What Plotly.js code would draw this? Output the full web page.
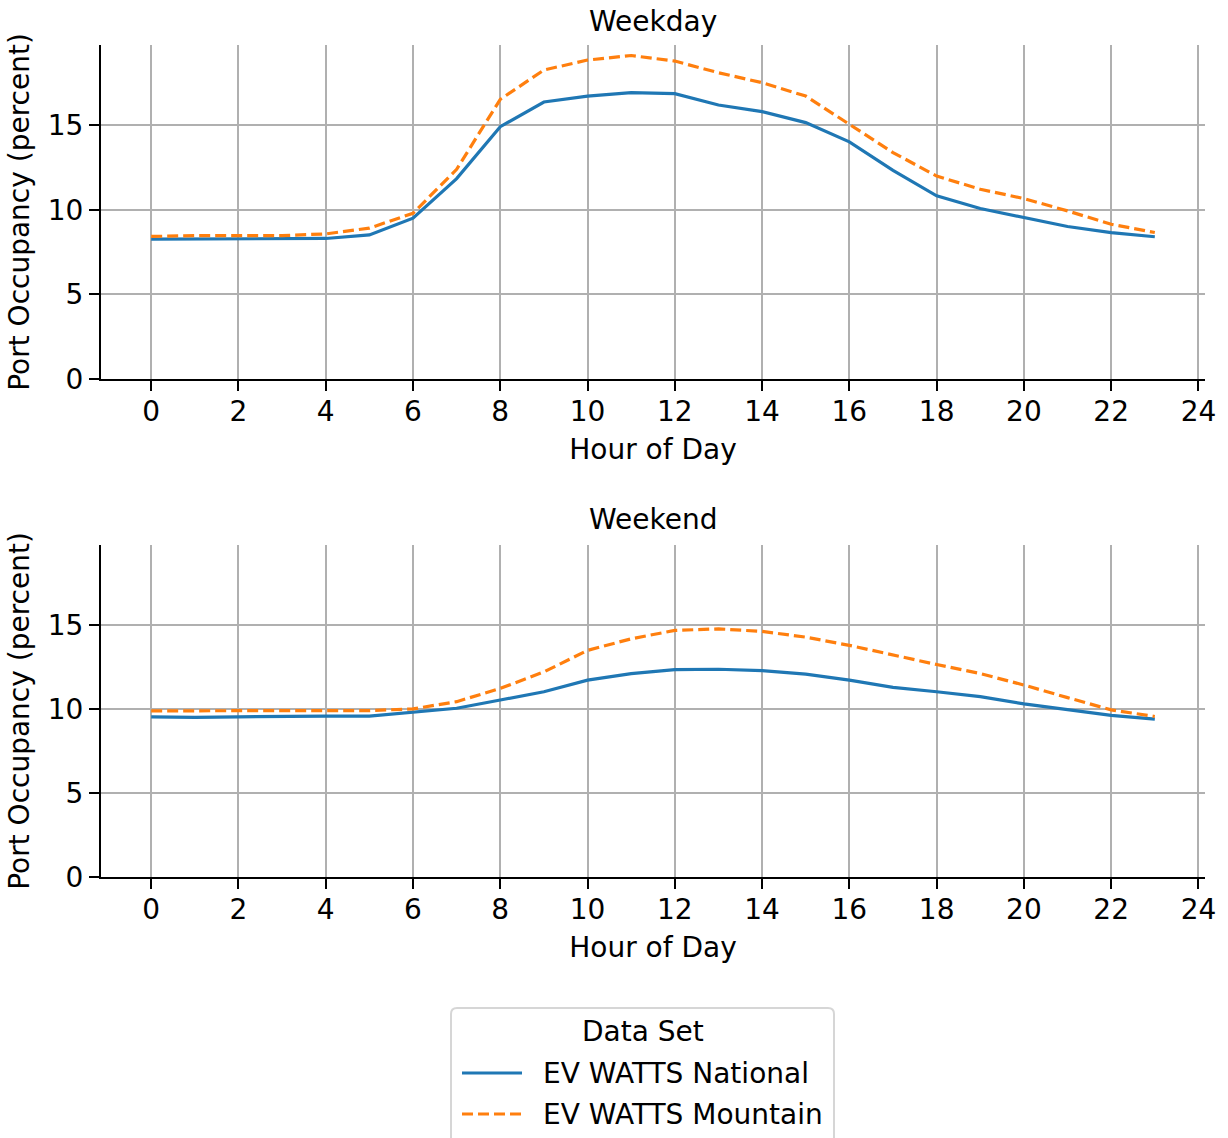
<!DOCTYPE html>
<html>
<head>
<meta charset="utf-8">
<script src="https://cdn.plot.ly/plotly-3.0.1.min.js"></script>
<style>html,body{margin:0;padding:0;background:#fff;}</style>
</head>
<body>
<div id="chart" style="width:1228px;height:1138px;"></div>
<script>
const hours = [0,1,2,3,4,5,6,7,8,9,10,11,12,13,14,15,16,17,18,19,20,21,22,23];
const weekdayNational = [8.27,8.27,8.27,8.27,8.31,8.52,9.51,11.85,14.92,16.38,16.73,16.93,16.87,16.2,15.81,15.16,14.02,12.34,10.83,10.08,9.55,9.02,8.66,8.41];
const weekdayMountain = [8.43,8.48,8.48,8.48,8.58,8.92,9.8,12.4,16.54,18.27,18.86,19.13,18.8,18.11,17.52,16.73,15.06,13.39,12.0,11.22,10.67,9.94,9.15,8.66];
const weekendNational = [9.53,9.49,9.53,9.57,9.57,9.57,9.8,10.04,10.53,11.02,11.71,12.1,12.34,12.36,12.28,12.07,11.71,11.28,11.02,10.73,10.3,9.94,9.61,9.39];
const weekendMountain = [9.88,9.9,9.9,9.9,9.9,9.9,10.0,10.43,11.22,12.2,13.48,14.17,14.67,14.76,14.61,14.27,13.78,13.19,12.64,12.1,11.42,10.67,9.94,9.55];
const seriesNames = ["EV WATTS National","EV WATTS Mountain"];
const legendTitle = "Data Set";
const panelTitles = ["Weekday","Weekend"];
const xTitle = "Hour of Day";
const yTitle = "Port Occupancy (percent)";
const xTicks = [0,2,4,6,8,10,12,14,16,18,20,22,24];
const yTicks = [0,5,10,15];

const blue = "#1f77b4", orange = "#ff7f0e";
const FONT = "DejaVu Sans, sans-serif";
const FS = 28;
const DASH = "11px,5px";

const traces = [
  {x: hours, y: weekdayNational, type: "scatter", mode: "lines", name: seriesNames[0],
   line: {color: blue, width: 3.2}, xaxis: "x", yaxis: "y"},
  {x: hours, y: weekdayMountain, type: "scatter", mode: "lines", name: seriesNames[1],
   line: {color: orange, width: 3.2, dash: DASH}, xaxis: "x", yaxis: "y"},
  {x: hours, y: weekendNational, type: "scatter", mode: "lines", name: seriesNames[0],
   line: {color: blue, width: 3.2}, xaxis: "x2", yaxis: "y2"},
  {x: hours, y: weekendMountain, type: "scatter", mode: "lines", name: seriesNames[1],
   line: {color: orange, width: 3.2, dash: DASH}, xaxis: "x2", yaxis: "y2"}
];

const W = 1228, H = 1138;
const xdom = [101/W, 1205/W];
const fnt = {family: FONT, size: FS, color: "#000"};
function xax(anchor){
  return {domain: xdom, anchor: anchor, range: [-1.15, 24.15], tickvals: xTicks, ticktext: xTicks.map(String),
    showgrid: true, gridcolor: "#b0b0b0", gridwidth: 2, zeroline: false,
    showline: true, linecolor: "#000", linewidth: 2, ticks: "outside", ticklen: 10, tickwidth: 2, tickcolor: "#000",
    tickfont: fnt, automargin: false, ticklabelstandoff: -4,
    title: {text: xTitle, font: fnt, standoff: 13}};
}
function yax(anchor, dom){
  return {domain: dom, anchor: anchor, range: [0, 19.75], tickvals: yTicks, ticktext: yTicks.map(String),
    showgrid: true, gridcolor: "#b0b0b0", gridwidth: 2, zeroline: false,
    showline: true, linecolor: "#000", linewidth: 2, ticks: "outside", ticklen: 10, tickwidth: 2, tickcolor: "#000",
    tickfont: fnt, automargin: false,
    title: {text: yTitle, font: fnt, standoff: 10}};
}

// Legend drawn as a framed box (matplotlib style) using shapes + annotations
const lgL = 451, lgR = 834, lgT = 1008, lgB = 1150, rad = 6;
const px = v => v / W, py = v => 1 - v / H;
const boxPath = `M ${px(lgL+rad)} ${py(lgT)} L ${px(lgR-rad)} ${py(lgT)} Q ${px(lgR)} ${py(lgT)} ${px(lgR)} ${py(lgT+rad)} ` +
  `L ${px(lgR)} ${py(lgB)} L ${px(lgL)} ${py(lgB)} L ${px(lgL)} ${py(lgT+rad)} Q ${px(lgL)} ${py(lgT)} ${px(lgL+rad)} ${py(lgT)} Z`;
const legendRows = [1073, 1114];
const legendColors = [blue, orange];
const legendDash = ["solid", DASH];

const shapes = [
  {type: "path", xref: "paper", yref: "paper", path: boxPath, line: {color: "#d6d6d6", width: 2}, fillcolor: "rgba(255,255,255,0.8)"}
];
const annotations = [
  {text: panelTitles[0], xref: "paper", yref: "paper", x: px(653), y: py(21), xanchor: "center", yanchor: "middle", showarrow: false, font: fnt},
  {text: panelTitles[1], xref: "paper", yref: "paper", x: px(653), y: py(519), xanchor: "center", yanchor: "middle", showarrow: false, font: fnt},
  {text: legendTitle, xref: "paper", yref: "paper", x: px(643), y: py(1031), xanchor: "center", yanchor: "middle", showarrow: false, font: fnt}
];
seriesNames.forEach((nm, i) => {
  shapes.push({type: "line", xref: "paper", yref: "paper", x0: px(462), x1: px(522), y0: py(legendRows[i]), y1: py(legendRows[i]),
    line: {color: legendColors[i], width: 3.2, dash: legendDash[i]}});
  annotations.push({text: nm, xref: "paper", yref: "paper", x: px(541), y: py(legendRows[i]), xanchor: "left", yanchor: "middle",
    showarrow: false, font: fnt});
});

const layout = {
  width: W, height: H,
  margin: {l: 0, r: 0, t: 0, b: 0},
  paper_bgcolor: "#fff", plot_bgcolor: "#fff",
  font: fnt,
  showlegend: false,
  xaxis: xax("y"),
  yaxis: yax("x", [1 - 379/H, 1 - 45/H]),
  xaxis2: xax("y2"),
  yaxis2: yax("x2", [1 - 877/H, 1 - 545/H]),
  shapes: shapes,
  annotations: annotations
};

Plotly.newPlot("chart", traces, layout, {staticPlot: true, displayModeBar: false});
</script>
</body>
</html>
